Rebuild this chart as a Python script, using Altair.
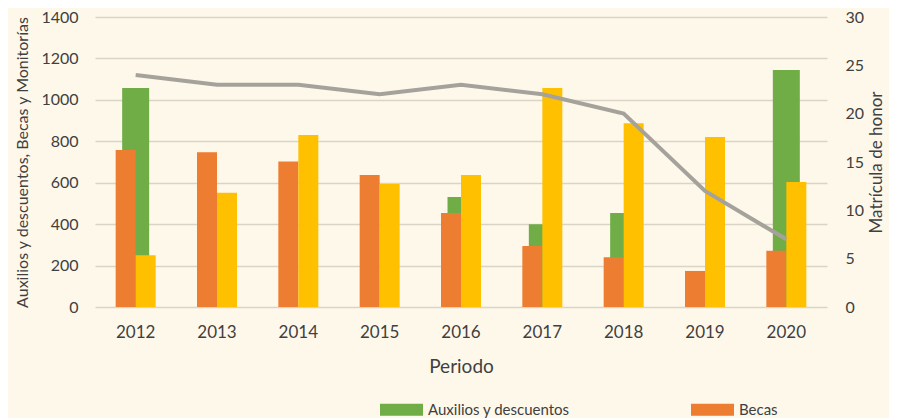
import altair as alt
import pandas as pd

years = ["2012", "2013", "2014", "2015", "2016", "2017", "2018", "2019", "2020"]
auxilios = [1057, 0, 0, 0, 531, 400, 454, 0, 1144]
becas = [758, 747, 703, 637, 454, 295, 240, 174, 272]
monitorias = [250, 552, 830, 594, 637, 1057, 887, 821, 603]
matricula = [24, 23, 23, 22, 23, 22, 20, 12, 7]

series_names = ["Auxilios y descuentos", "Becas", "Monitorías"]
series_colors = ["#70AD47", "#ED7D31", "#FFC000"]
left_ticks = [0, 200, 400, 600, 800, 1000, 1200, 1400]
right_ticks = [0, 5, 10, 15, 20, 25, 30]

rows = []
for name, vals in zip(series_names, [auxilios, becas, monitorias]):
    for yr, v in zip(years, vals):
        rows.append({"Periodo": yr, "series": name, "value": v})
bars_df = pd.DataFrame(rows)
line_df = pd.DataFrame({"Periodo": years, "mat": matricula})

FONT = "Lato"
TXT = "#404040"

x_enc = alt.X(
    "Periodo:N",
    title="Periodo",
    sort=years,
    scale=alt.Scale(paddingInner=0, paddingOuter=0),
    axis=alt.Axis(labelAngle=0, ticks=False, domain=False, labelPadding=17,
                  titlePadding=17, labelFontSize=17, titleFontSize=19),
)

y_left = alt.Y(
    "value:Q",
    title="Auxilios y descuentos, Becas y Monitorías",
    scale=alt.Scale(domain=[0, 1400], nice=False),
    axis=alt.Axis(values=left_ticks, format="d", ticks=False, domain=False,
                  labelPadding=17, titlePadding=10, labelFontSize=16,
                  titleFontSize=16, grid=True),
)

color_enc = alt.Color(
    "series:N",
    scale=alt.Scale(domain=series_names, range=series_colors),
    legend=alt.Legend(
        title=None,
        orient="none",
        legendX=285,
        legendY=371,
        direction="horizontal",
        values=["Auxilios y descuentos", "Becas"],
        symbolType="M-1,-0.28L1,-0.28L1,0.28L-1,0.28Z",
        symbolSize=1849,
        symbolStrokeWidth=0,
        labelFont=FONT,
        labelFontSize=15,
        labelColor=TXT,
        labelOffset=5,
        columnPadding=121,
        padding=0,
    ),
)

base = alt.Chart(bars_df)

green = base.transform_filter(alt.datum.series == "Auxilios y descuentos").mark_bar(
    width=27, xOffset=0
).encode(x=x_enc, y=y_left, color=color_enc)
orange = base.transform_filter(alt.datum.series == "Becas").mark_bar(
    width=20, xOffset=-10
).encode(x=x_enc, y=y_left, color=color_enc)
yellow = base.transform_filter(alt.datum.series == "Monitorías").mark_bar(
    width=20, xOffset=10
).encode(x=x_enc, y=y_left, color=color_enc)

bars = alt.layer(green, orange, yellow)

line = alt.Chart(line_df).mark_line(color="#A5A29B", strokeWidth=4).encode(
    x=alt.X("Periodo:N", sort=years),
    y=alt.Y(
        "mat:Q",
        title="Matrícula de honor",
        scale=alt.Scale(domain=[0, 30], nice=False),
        axis=alt.Axis(orient="right", values=right_ticks, ticks=False, domain=False,
                      grid=False, labelPadding=18, titlePadding=5, titleAngle=-90,
                      titleBaseline="top", labelFontSize=16, titleFontSize=17),
    ),
)

chart = (
    alt.layer(bars, line)
    .resolve_scale(y="independent")
    .properties(
        width=732,
        height=290,
        autosize=alt.AutoSizeParams(type="none"),
        padding={"left": 87, "top": 9, "right": 62, "bottom": 111},
        background="#FEF8EB",
    )
    .configure_view(strokeWidth=0)
    .configure_axis(
        labelFont=FONT,
        titleFont=FONT,
        labelColor=TXT,
        titleColor=TXT,
        titleFontWeight="normal",
        gridColor="#D9D4C6",
        gridWidth=1.5,
    )
)

chart.save("out.html", embed_options={"renderer": "svg", "actions": False})
